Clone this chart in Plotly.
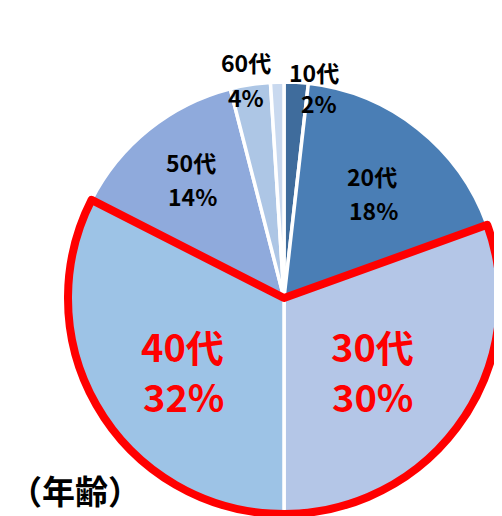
import plotly.graph_objects as go

# ---- data ----
age_groups = ["10代", "20代", "30代", "40代", "50代", "60代", "70代"]
shares = [1.8, 17.7, 30.5, 32.5, 13.5, 3.0, 1.0]
pct_labels = ["2%", "18%", "30%", "32%", "14%", "4%", ""]
highlight = ["30代", "40代"]
axis_title = "（年齢）"

colors = ["#3F6C9C", "#4A7EB5", "#B4C6E7", "#9DC3E6", "#8FAADC", "#ADC6E5", "#C9D9EF"]

OFF = 8  # page body margin
W, H = 502 - OFF, 516 - OFF
cx, cy, R = 284 - OFF, 298 - OFF, 216
dom_x = [(cx - R) / W, min(1.0, (cx + R) / W)]
dom_y = [max(0.0, 1 - (cy + R) / H), 1 - (cy - R) / H]


def px2paper(px, py):
    return (px - OFF) / W, 1 - (py - OFF) / H


fig = go.Figure()
fig.add_trace(go.Pie(
    values=shares, labels=age_groups, sort=False, direction="clockwise",
    rotation=0, textinfo="none", hoverinfo="label+percent",
    marker=dict(colors=colors, line=dict(color="white", width=3.5)),
    domain=dict(x=dom_x, y=dom_y), showlegend=False,
))

# overlay: highlighted groups merged into one outlined slice
ov_labels, ov_values = [], []
for g, v in zip(age_groups, shares):
    if g in highlight:
        if "hl" not in ov_labels:
            ov_labels.append("hl"); ov_values.append(0.0)
        ov_values[ov_labels.index("hl")] += v
    else:
        ov_labels.append(g); ov_values.append(v)
fig.add_trace(go.Pie(
    values=ov_values, labels=ov_labels, sort=False, direction="clockwise",
    rotation=0, textinfo="none", hoverinfo="skip",
    marker=dict(colors=["rgba(0,0,0,0)"] * len(ov_labels),
                line=dict(color=["red" if l == "hl" else "rgba(0,0,0,0)" for l in ov_labels],
                          width=[8 if l == "hl" else 0 for l in ov_labels])),
    domain=dict(x=dom_x, y=dom_y), showlegend=False,
))

# label placement (reference pixel centres: name line, pct line)
label_pos = {
    "10代": ((314, 72), (319, 103)),
    "20代": ((372, 176), (373, 210)),
    "30代": ((372, 345), (372, 395)),
    "40代": ((182, 345), (183, 395)),
    "50代": ((191, 162), (192, 196)),
    "60代": ((246, 62), (246, 97)),
}
font_family = "Noto Sans CJK JP"
for g, p in zip(age_groups, pct_labels):
    if g not in label_pos:
        continue
    big = g in highlight
    col = "#FF0000" if big else "#000000"
    size = 38 if big else 23
    for txt, (px, py) in zip([g, p], label_pos[g]):
        x, y = px2paper(px, py)
        fig.add_annotation(
            x=x, y=y, xref="paper", yref="paper",
            text=f"<b>{txt}</b>", showarrow=False,
            font=dict(family=font_family, size=size, color=col),
            xanchor="center", yanchor="middle",
        )

tx, ty = px2paper(OFF, 490)
fig.add_annotation(
    x=tx, y=ty, xref="paper", yref="paper",
    text=f"<b>{axis_title}</b>", showarrow=False,
    font=dict(family=font_family, size=33, color="#000000"),
    xanchor="left", yanchor="middle", borderpad=0,
)

fig.update_layout(
    width=W, height=H, margin=dict(l=0, r=0, t=0, b=0),
    paper_bgcolor="white", plot_bgcolor="white",
)
fig.write_html("out.html")
